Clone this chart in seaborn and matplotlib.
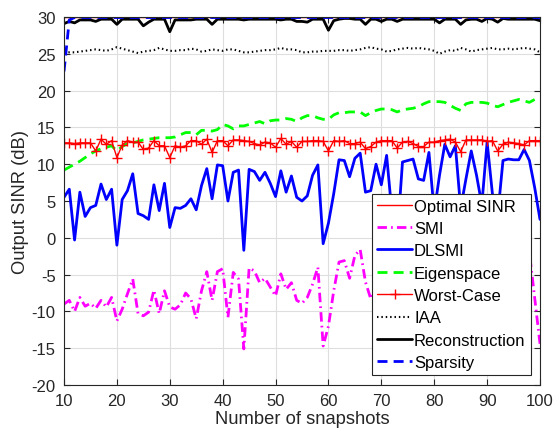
import matplotlib
matplotlib.use("Agg")
import matplotlib.pyplot as plt
import seaborn as sns
import pandas as pd

snapshots = list(range(10, 101))

optimal = [30.0] * 91

smi = [-9.0, -8.5, -10.0, -8.1, -9.3, -8.9, -9.6, -8.5, -9.4, -8.1,
       -11.3, -9.7, -7.6, -5.6, -10.3, -10.6, -10.1, -7.1, -10.3, -7.2,
       -9.4, -9.7, -9.1, -7.5, -8.3, -11.0, -7.2, -4.6, -8.5, -4.6,
       -4.2, -10.8, -4.7, -5.6, -15.1, -4.1, -4.5, -6.1, -5.5, -6.7,
       -7.9, -4.9, -7.0, -6.1, -8.5, -8.9, -8.1, -6.3, -4.0, -14.7,
       -12.0, -7.2, -3.3, -3.1, -5.5, -2.4, -1.6, -6.0, -8.3, -6.5,
       -4.0, -7.8, -5.2, -9.0, -3.8, -6.6, -5.0, -8.2, -4.4, -6.9,
       -3.5, -7.4, -5.8, -10.2, -4.6, -6.1, -3.9, -7.7, -5.3, -8.8,
       -4.2, -6.4, -5.6, -9.4, -3.7, -6.8, -4.9, -7.1, -2.0, -8.2,
       -14.4]

dlsmi = [5.5, 6.6, -0.3, 6.2, 2.9, 4.1, 4.4, 7.3, 5.2, 6.6,
         -1.0, 5.2, 6.4, 8.7, 3.3, 3.0, 2.5, 7.2, 3.7, 7.4,
         1.4, 4.1, 4.0, 4.4, 5.3, 3.8, 7.1, 9.4, 5.3, 9.9,
         9.8, 5.0, 8.9, 9.2, -1.7, 9.3, 9.0, 7.8, 8.9, 7.4,
         5.6, 9.1, 6.2, 8.4, 5.5, 5.0, 5.7, 8.5, 9.9, -0.8,
         2.0, 6.0, 10.6, 10.5, 8.3, 10.8, 11.5, 6.2, 6.4, 10.0,
         7.2, 11.2, 3.4, 0.0, 10.3, 10.5, 10.7, 8.0, 7.8, 11.6,
         3.5, 8.5, 12.7, 11.0, 12.5, 4.0, 8.0, 11.8, 8.5, 4.5,
         13.0, 6.0, 3.0, 10.5, 10.7, 10.6, 10.6, 12.0, 10.5, 6.8,
         2.5]

eigenspace = [9.2, 9.6, 10.0, 10.4, 10.9, 11.4, 11.8, 12.1, 12.3, 12.5,
              11.8, 12.4, 12.8, 12.9, 13.1, 13.3, 13.4, 13.5, 13.6, 13.6,
              13.6, 13.7, 14.0, 14.3, 14.3, 14.0, 14.6, 14.6, 14.5, 14.7,
              15.4, 15.2, 14.8, 15.2, 15.2, 15.4, 15.6, 15.8, 15.5, 15.9,
              16.0, 16.0, 16.2, 16.1, 15.8, 16.3, 16.6, 16.6, 16.3, 16.1,
              16.1, 16.7, 17.0, 17.0, 17.1, 17.1, 17.1, 16.6, 17.0, 17.3,
              17.5, 17.5, 17.4, 17.1, 17.4, 17.5, 17.6, 17.8, 18.2, 18.5,
              18.5, 18.5, 18.4, 18.0, 17.6, 17.3, 18.2, 18.4, 18.4, 18.4,
              18.3, 18.0, 17.8, 18.1, 18.4, 18.6, 18.8, 18.6, 18.4, 18.8,
              19.0]

worst_case = [12.9, 12.9, 12.8, 12.9, 12.9, 12.9, 11.8, 13.4, 12.7, 13.2,
              10.9, 12.6, 13.2, 13.0, 13.0, 12.0, 12.2, 13.2, 12.5, 12.5,
              10.9, 12.5, 12.3, 12.5, 13.2, 13.2, 12.7, 13.4, 11.6, 13.2,
              13.2, 12.5, 13.3, 13.3, 13.2, 13.1, 12.8, 12.6, 13.0, 12.9,
              12.3, 13.5, 12.7, 13.1, 12.3, 13.1, 13.1, 13.2, 13.2, 13.1,
              11.8, 13.2, 13.1, 13.2, 12.8, 12.8, 13.0, 12.1, 12.4, 13.0,
              13.2, 13.2, 13.2, 12.2, 13.0, 13.1, 12.8, 12.4, 12.4, 13.0,
              13.0, 13.2, 13.3, 13.4, 13.0, 11.7, 13.3, 13.3, 13.3, 13.3,
              13.1, 13.2, 11.8, 12.7, 13.0, 12.9, 12.8, 12.6, 13.2, 13.2,
              13.2]

iaa = [25.1, 25.2, 25.2, 25.3, 25.4, 25.5, 25.6, 25.5, 25.4, 25.6,
       25.9, 25.7, 25.5, 25.3, 25.1, 25.3, 25.4, 25.5, 25.8, 25.6,
       25.4, 25.4, 25.5, 25.5, 25.7, 25.6, 25.3, 25.4, 25.6, 25.5,
       25.4, 25.6, 25.6, 25.4, 25.2, 25.2, 25.3, 25.4, 25.5, 25.5,
       25.6, 25.8, 25.6, 25.6, 25.5, 25.2, 25.2, 25.3, 25.3, 25.4,
       25.4, 25.4, 25.5, 25.5, 25.4, 25.5, 25.6, 25.8, 25.9, 25.7,
       25.6, 25.3, 25.4, 25.6, 25.7, 25.8, 25.7, 25.8, 25.7, 25.6,
       25.4, 25.0, 25.3, 25.5, 25.4, 25.8, 25.6, 25.3, 25.5, 25.6,
       25.7, 25.8, 25.6, 25.6, 25.7, 25.6, 25.7, 25.8, 25.7, 25.6,
       25.2]

reconstruction = [29.1, 29.4, 29.2, 29.6, 29.6, 29.6, 29.4, 29.7, 29.7, 29.7,
                  29.0, 29.7, 29.7, 29.7, 29.7, 28.8, 29.3, 29.7, 29.7, 29.7,
                  28.0, 29.6, 29.6, 29.6, 29.6, 29.7, 29.7, 29.7, 29.0, 29.7,
                  29.7, 29.7, 29.7, 29.7, 29.6, 29.7, 29.7, 29.7, 29.7, 29.7,
                  29.7, 29.6, 29.7, 29.7, 29.4, 29.4, 29.3, 29.7, 29.7, 29.7,
                  28.2, 29.5, 29.7, 29.8, 29.8, 29.7, 29.7, 29.0, 29.7, 29.7,
                  29.4, 29.7, 29.7, 29.4, 29.7, 29.7, 29.7, 29.7, 29.7, 29.7,
                  29.7, 29.2, 29.7, 29.7, 29.7, 29.0, 29.6, 29.7, 29.7, 29.4,
                  29.8, 29.7, 29.3, 29.8, 29.7, 29.7, 29.7, 29.7, 29.7, 29.7,
                  29.5]

sparsity = [22.6, 29.6] + [29.93] * 89

x_ticks = [10, 20, 30, 40, 50, 60, 70, 80, 90, 100]
y_ticks = [-20, -15, -10, -5, 0, 5, 10, 15, 20, 25, 30]

sns.set_theme(style="whitegrid")
plt.rcParams['font.family'] = ['Liberation Sans', 'DejaVu Sans']

W, H = 557, 439
fig = plt.figure(figsize=(W / 100, H / 100), dpi=100)
ax = fig.add_axes([64 / W, 53 / H, 476 / W, 368 / H])

dark = '#262626'

series = [
    ("Optimal SINR", optimal, dict(color='#ff0000', linewidth=1.0, linestyle='-')),
    ("SMI", smi, dict(color='#ff00ff', linewidth=2.0, dashes=[3.4, 1.5, 0.6, 1.5])),
    ("DLSMI", dlsmi, dict(color='#0000ff', linewidth=2.0, linestyle='-')),
    ("Eigenspace", eigenspace, dict(color='#00ff00', linewidth=2.0, dashes=[3.6, 2.2])),
    ("Worst-Case", worst_case, dict(color='#ff0000', linewidth=1.0, linestyle='-',
                                    marker='+', markersize=7)),
    ("IAA", iaa, dict(color='black', linewidth=1.5, dashes=[0.7, 1.4])),
    ("Reconstruction", reconstruction, dict(color='black', linewidth=2.0, linestyle='-')),
    ("Sparsity", sparsity, dict(color='#0000ff', linewidth=2.0, dashes=[3.6, 2.2])),
]

for name, vals, st in series:
    df = pd.DataFrame({"snapshots": snapshots, "sinr": vals})
    sns.lineplot(data=df, x="snapshots", y="sinr", ax=ax, label=name,
                 color=st['color'], linewidth=st['linewidth'])
    ln = ax.lines[-1]
    if 'dashes' in st:
        ln.set_dashes(st['dashes'])
    else:
        ln.set_linestyle('-')
    if 'marker' in st:
        ln.set_marker(st['marker'])
        ln.set_markersize(st['markersize'])
        ln.set_markeredgecolor(st['color'])
        ln.set_markerfacecolor(st['color'])
        ln.set_markeredgewidth(1.0)
    else:
        ln.set_marker('')

ax.set_xlim(10, 100)
ax.set_ylim(-20, 30)
ax.set_xticks(x_ticks)
ax.set_yticks(y_ticks)
ax.set_xticklabels([str(v) for v in x_ticks])
ax.set_yticklabels([str(v) for v in y_ticks])

ax.grid(True, color='#dedede', linewidth=0.8)
ax.set_axisbelow(True)
ax.set_facecolor('white')
for sp in ax.spines.values():
    sp.set_visible(True)
    sp.set_color(dark)
    sp.set_linewidth(0.8)

ax.tick_params(axis='both', which='both', direction='in', length=4.5, width=0.8,
               color=dark, labelcolor=dark, labelsize=12,
               top=True, right=True, bottom=True, left=True)
ax.tick_params(axis='x', pad=6)
ax.tick_params(axis='y', pad=6)

ax.set_xlabel("Number of snapshots", fontsize=13.2, color=dark, labelpad=1.5)
ax.set_ylabel("Output SINR (dB)", fontsize=13.2, color=dark, labelpad=1.5)

x0 = (372 - 64) / 476
x1 = (531 - 64) / 476
y0 = (386 - 376) / 368
leg = ax.legend(loc='lower left', bbox_to_anchor=(x0, y0, x1 - x0, 0.5),
                mode='expand', borderaxespad=0, fontsize=12, frameon=True,
                fancybox=False, framealpha=1, edgecolor=dark, handlelength=2.1,
                handletextpad=0.12, labelspacing=0.44, borderpad=0.3)
leg.get_frame().set_linewidth(0.8)
for t in leg.get_texts():
    t.set_color('black')

fig.savefig("out.png", dpi=100)
